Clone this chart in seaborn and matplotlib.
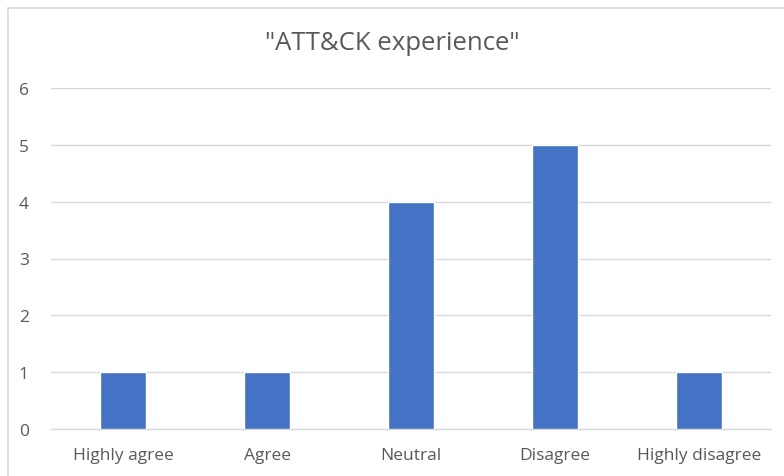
import matplotlib
matplotlib.use("Agg")
import matplotlib.pyplot as plt
from matplotlib.patches import Rectangle
import seaborn as sns
import pandas as pd

categories = ["Highly agree", "Agree", "Neutral", "Disagree", "Highly disagree"]
counts = [1, 1, 4, 5, 1]
y_ticks = [0, 1, 2, 3, 4, 5, 6]
title = '"ATT&CK experience"'

sns.set_theme(style="white")
plt.rcParams["font.family"] = ["Open Sans", "DejaVu Sans"]

text_color = "#595959"
grid_color = "#D9D9D9"
bar_color = "#4472C4"

df = pd.DataFrame({"category": categories, "count": counts})

fig = plt.figure(figsize=(7.84, 4.77), dpi=100)
fig.patch.set_facecolor("white")
ax = fig.add_axes([51 / 784, 1 - 430 / 477, 720 / 784, 341 / 477])

# chart frame
fig.patches.append(Rectangle((8 / 784, -0.1), 2.0, 1 - 9 / 477 + 0.1,
                             transform=fig.transFigure, fill=False,
                             edgecolor=grid_color, linewidth=1.2, zorder=0))

sns.barplot(data=df, x="category", y="count", color=bar_color,
            width=0.32, saturation=1, ax=ax, zorder=3)

ax.set_ylim(0, 6)
ax.set_xlim(-0.5, len(categories) - 0.5)
ax.set_yticks(y_ticks)
ax.yaxis.grid(True, color=grid_color, linewidth=1.0)
ax.set_axisbelow(True)
for side in ["top", "right", "left"]:
    ax.spines[side].set_visible(False)
ax.spines["bottom"].set_color(grid_color)
ax.spines["bottom"].set_linewidth(1.0)
ax.tick_params(axis="both", length=0, colors=text_color, labelsize=12.5)
ax.tick_params(axis="y", pad=16)
ax.tick_params(axis="x", pad=13)
ax.set_xlabel("")
ax.set_ylabel("")

fig.text(0.5, 1 - 44 / 477, title, ha="center", va="center",
         fontsize=18.5, color=text_color)

fig.savefig("out.png", dpi=100, facecolor="white")
